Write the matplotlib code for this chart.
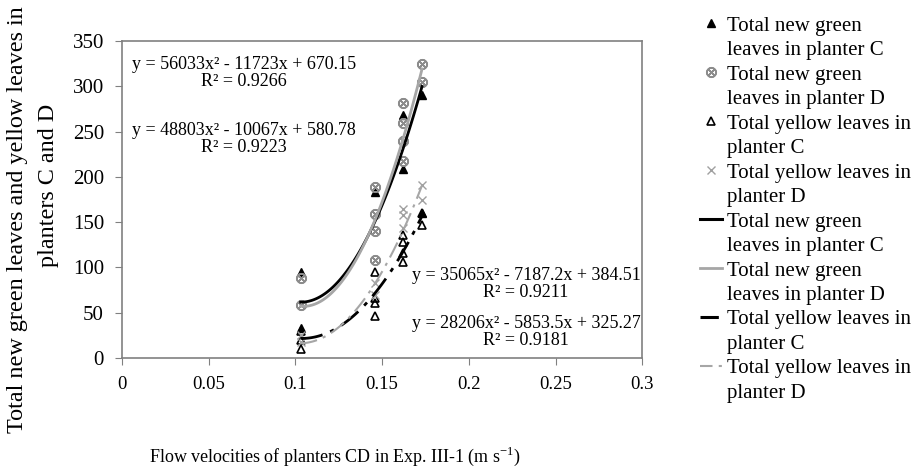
import numpy as np
import matplotlib
matplotlib.use("Agg")
import matplotlib.pyplot as plt
from matplotlib.lines import Line2D

plt.rcParams['font.family'] = ['Liberation Serif', 'DejaVu Serif']
plt.rcParams['mathtext.fontset'] = 'custom'
plt.rcParams['mathtext.rm'] = 'Liberation Serif'

# observed points (flow velocity, leaf count)
green_c_x = [0.103, 0.103, 0.146, 0.162, 0.162, 0.173, 0.173]
green_c_y = [95, 33, 183, 268, 209, 290, 160]
green_d_x = [0.103, 0.103, 0.146, 0.146, 0.146, 0.146, 0.162, 0.162, 0.162, 0.162, 0.173, 0.173]
green_d_y = [88, 58, 189, 159, 140, 108, 281, 259, 239, 217, 325, 305]
yellow_c_x = [0.103, 0.103, 0.103, 0.146, 0.146, 0.146, 0.146, 0.162, 0.162, 0.162, 0.162, 0.173, 0.173]
yellow_c_y = [30, 20, 10, 95, 66, 61, 46, 136, 128, 116, 106, 160, 147]
yellow_d_x = [0.103, 0.103, 0.146, 0.146, 0.162, 0.162, 0.162, 0.173, 0.173]
yellow_d_y = [25, 18, 83, 70, 165, 158, 143, 191, 174]

# trendline coefficients (a, b, c) as printed on the chart
fit_green_c = [48803, -10067, 580.78]
fit_green_d = [56033, -11723, 670.15]
fit_yellow_c = [28206, -5853.5, 325.27]
fit_yellow_d = [35065, -7187.2, 384.51]
fit_range = (0.103, 0.173)

eq_labels = ["y = 56033x² - 11723x + 670.15\nR² = 0.9266",
             "y = 48803x² - 10067x + 580.78\nR² = 0.9223",
             "y = 35065x² - 7187.2x + 384.51\nR² = 0.9211",
             "y = 28206x² - 5853.5x + 325.27\nR² = 0.9181"]

fig = plt.figure(figsize=(9.11, 4.76), dpi=100)
ax = fig.add_axes([0.134, 0.248, 0.571, 0.666])

ax.plot(green_c_x, green_c_y, linestyle='none', marker='^', color='black', ms=6)
ax.plot(green_d_x, green_d_y, linestyle='none', marker=r'$\otimes$', color='#8c8c8c', ms=7)
ax.plot(yellow_c_x, yellow_c_y, linestyle='none', marker='^', mfc='none', mec='black', ms=6, mew=1.2)
ax.plot(yellow_d_x, yellow_d_y, linestyle='none', marker='x', color='#a0a0a0', ms=6)

xs = np.linspace(fit_range[0], fit_range[1], 100)
ax.plot(xs, np.polyval(fit_green_c, xs), color='black', lw=2)
ax.plot(xs, np.polyval(fit_green_d, xs), color='#a6a6a6', lw=2)
ax.plot(xs, np.polyval(fit_yellow_c, xs), color='black', lw=2, dashes=(8, 3, 1.5, 3))
ax.plot(xs, np.polyval(fit_yellow_d, xs), color='#a6a6a6', lw=1.5, dashes=(8, 3, 1.5, 3))

ax.text(0.0705, 315, eq_labels[0], ha='center', va='center', fontsize=13, linespacing=1.0)
ax.text(0.0705, 242, eq_labels[1], ha='center', va='center', fontsize=13, linespacing=1.0)
ax.text(0.233, 82, eq_labels[2], ha='center', va='center', fontsize=13, linespacing=1.0)
ax.text(0.233, 29, eq_labels[3], ha='center', va='center', fontsize=13, linespacing=1.0)

ax.set_xlim(0, 0.3)
ax.set_ylim(0, 350)
ax.set_xticks([0, 0.05, 0.1, 0.15, 0.2, 0.25, 0.3])
ax.set_xticklabels(['0', '0.05', '0.1', '0.15', '0.2', '0.25', '0.3'])
ax.set_yticks(range(0, 351, 50))
ax.tick_params(direction='out', length=5, color='#808080', pad=8)
ax.tick_params(axis='x', labelsize=13.5)
ax.tick_params(axis='y', labelsize=15)
for s in ax.spines.values():
    s.set_color('#808080')
    s.set_linewidth(1.2)

fig.text(0.368, 0.042, r'Flow velocities of planters CD in Exp. III-1 (m s$^{\mathrm{-1}}$)',
         ha='center', va='center', fontsize=13)
fig.text(0.019, 0.538, 'Total new green leaves and yellow leaves in', rotation=90,
         ha='center', va='center', fontsize=17.4)
fig.text(0.053, 0.611, 'planters C and D', rotation=90, ha='center', va='center', fontsize=17.4)

blank = Line2D([], [], linestyle='none')
handles = [
    Line2D([], [], linestyle='none', marker='^', color='black', ms=6), blank,
    Line2D([], [], linestyle='none', marker=r'$\otimes$', color='#8c8c8c', ms=7), blank,
    Line2D([], [], linestyle='none', marker='^', mfc='none', mec='black', ms=6, mew=1.2), blank,
    Line2D([], [], linestyle='none', marker='x', color='#a0a0a0', ms=6), blank,
    Line2D([], [], color='black', lw=2.2), blank,
    Line2D([], [], color='#a6a6a6', lw=2), blank,
    Line2D([], [], color='black', lw=2.2, dashes=(6, 3, 1.5, 3)), blank,
    Line2D([], [], color='#a6a6a6', lw=1.5, dashes=(6, 3, 1.5, 3)), blank,
]
labels = ['Total new green', 'leaves in planter C',
          'Total new green', 'leaves in planter D',
          'Total yellow leaves in', 'planter C',
          'Total yellow leaves in', 'planter D',
          'Total new green', 'leaves in planter C',
          'Total new green', 'leaves in planter D',
          'Total yellow leaves in', 'planter C',
          'Total yellow leaves in', 'planter D']
ax.legend(handles, labels, loc='upper left', bbox_to_anchor=(0.757, 0.988),
          bbox_transform=fig.transFigure, frameon=False, fontsize=15,
          handlelength=1.05, handletextpad=0.25, labelspacing=0.235, borderpad=0.0)

fig.savefig('out.png', dpi=100)
